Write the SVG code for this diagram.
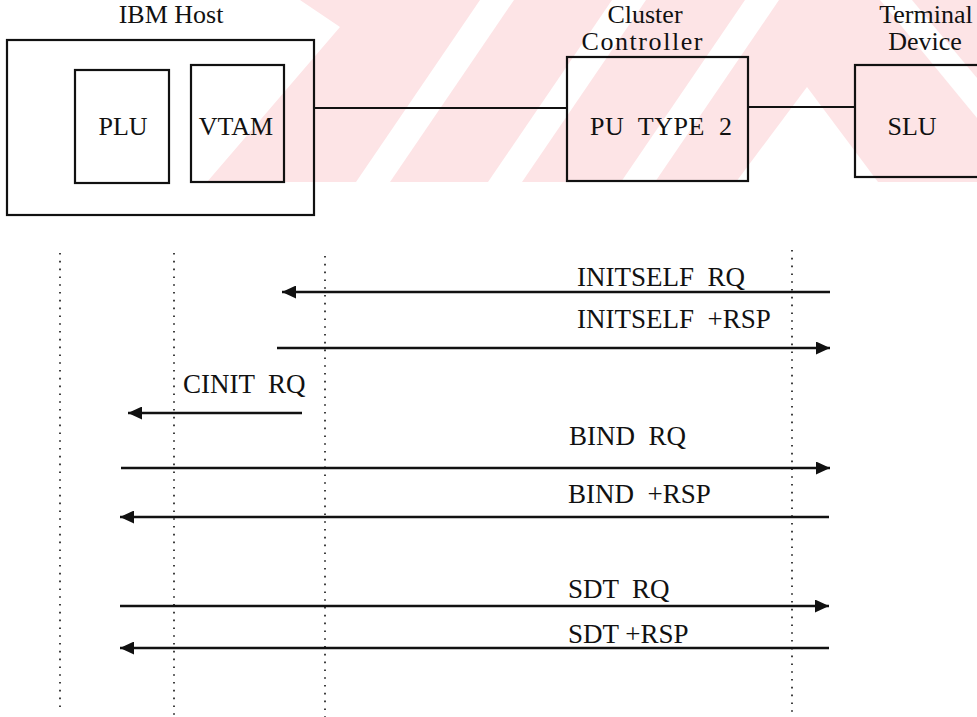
<svg xmlns="http://www.w3.org/2000/svg" width="977" height="717" viewBox="0 0 977 717">
<style>
.bg{fill:#ffffff}
.wm{fill:#fde4e6;stroke:none}
.wh{fill:#ffffff;stroke:none}
.box{fill:none;stroke:#111;stroke-width:2.2}
.conn{fill:none;stroke:#111;stroke-width:2.2}
.msg{fill:none;stroke:#111;stroke-width:2.4;marker-end:url(#ah)}
.life{fill:none;stroke:#111;stroke-width:1.6;stroke-dasharray:1.6 6.2}
text{fill:#111;white-space:pre}
.t{font-size:26px}
.m{font-size:27px}
</style>
<defs>
<marker id="ah" viewBox="0 0 14 13" refX="14" refY="6.5" markerWidth="14" markerHeight="13" markerUnits="userSpaceOnUse" orient="auto">
<path d="M0,0 L14,6.5 L0,13 Z" fill="#111"/>
</marker>
</defs>
<rect class="bg" x="0" y="0" width="977" height="717"/>
<g id="watermark">
<polygon class="wm" points="300,0 977,0 977,182 207,182 340,27"/>
<polygon class="wh" points="480,0 514,0 390,182 356,182"/>
<polygon class="wh" points="612,0 646,0 522,182 488,182"/>
<polygon class="wh" points="745,0 779,0 655,182 621,182"/>
<polygon class="wh" points="807,87 878,182 736,182"/>
<polygon class="wh" points="880,0 912,0 977,78 977,118"/>
</g>
<g font-family="'Liberation Serif', 'Times New Roman', Times, 'DejaVu Serif', serif">
<g id="host">
<rect class="box" x="7" y="40" width="307" height="175"/>
<text class="t" x="171" y="23" text-anchor="middle">IBM Host</text>
</g>
<g id="plu">
<rect class="box" x="75" y="70" width="94" height="113"/>
<text class="t" x="123" y="135" text-anchor="middle" font-size="25">PLU</text>
</g>
<g id="vtam">
<rect class="box" x="191" y="65" width="93" height="117"/>
<text class="t" x="236" y="135" text-anchor="middle">VTAM</text>
</g>
<g id="pu">
<rect class="box" x="567" y="57" width="181" height="124"/>
<text class="t" x="645" y="23" text-anchor="middle">Cluster</text>
<text class="t" x="642" y="50" text-anchor="middle" textLength="121" lengthAdjust="spacing">Controller</text>
<text class="t" x="661" y="135" text-anchor="middle" textLength="142" lengthAdjust="spacing">PU  TYPE  2</text>
</g>
<g id="slu">
<rect class="box" x="855" y="65" width="140" height="112"/>
<text class="t" x="926" y="23" text-anchor="middle" font-size="25">Terminal</text>
<text class="t" x="925" y="50" text-anchor="middle" font-size="25">Device</text>
<text class="t" x="912" y="135" text-anchor="middle" font-size="22">SLU</text>
</g>
<g id="lifelines">
<line class="life" x1="60" y1="253" x2="60" y2="707"/>
<line class="life" x1="174" y1="253" x2="174" y2="717"/>
<line class="life" x1="325" y1="256" x2="325" y2="717"/>
<line class="life" x1="792" y1="250" x2="792" y2="717"/>
</g>
<g id="connectors">
<line class="conn" x1="314" y1="108" x2="567" y2="108"/>
<line class="conn" x1="748" y1="107" x2="855" y2="107"/>
<line class="msg" x1="830" y1="292" x2="282" y2="292"/>
<line class="msg" x1="277" y1="348" x2="830" y2="348"/>
<line class="msg" x1="302" y1="413" x2="128" y2="413"/>
<line class="msg" x1="121" y1="468" x2="830" y2="468"/>
<line class="msg" x1="829" y1="517" x2="120" y2="517"/>
<line class="msg" x1="120" y1="606" x2="829" y2="606"/>
<line class="msg" x1="829" y1="648" x2="120" y2="648"/>
<text class="m" x="577" y="286">INITSELF  RQ</text>
<text class="m" x="577" y="328">INITSELF  +RSP</text>
<text class="m" x="183" y="393">CINIT  RQ</text>
<text class="m" x="569" y="445">BIND  RQ</text>
<text class="m" x="568" y="503">BIND  +RSP</text>
<text class="m" x="568" y="598">SDT  RQ</text>
<text class="m" x="568" y="643">SDT +RSP</text>
</g>
</g>
</svg>
